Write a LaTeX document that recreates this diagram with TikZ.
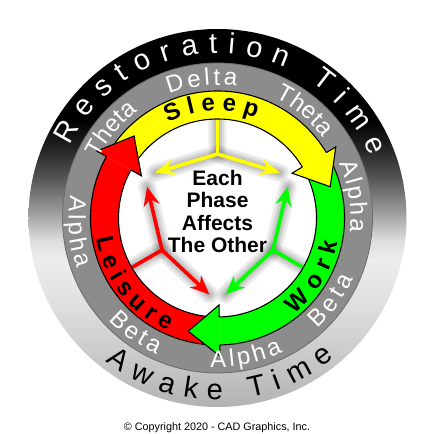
\documentclass[tikz,border=0pt]{standalone}
\usepackage{fontspec}
\setmainfont{Liberation Sans}
\usetikzlibrary{decorations.text,arrows.meta}

\definecolor{ringgray}{rgb}{0.55,0.55,0.55}
\definecolor{ringedge}{rgb}{0.42,0.42,0.42}
\definecolor{ylw}{rgb}{1,1,0}
\definecolor{grn}{rgb}{0,1,0}
\definecolor{rd}{rgb}{1,0,0}
\definecolor{sc0}{rgb}{0.70,0.70,0.70}
\definecolor{sc1}{rgb}{0.80,0.80,0.80}
\definecolor{sc2}{rgb}{0.88,0.88,0.88}
\definecolor{sc3}{rgb}{0.93,0.93,0.93}
\definecolor{sc4}{rgb}{0.87,0.87,0.87}
\definecolor{sc5}{rgb}{0.60,0.60,0.60}
\definecolor{sc6}{rgb}{0.35,0.35,0.35}
\definecolor{sc7}{rgb}{0.15,0.15,0.15}
\definecolor{sc8}{rgb}{0,0,0}

\pgfdeclareverticalshading{outerfade}{100bp}{color(0bp)=(sc0); color(25bp)=(sc0); color(32.5bp)=(sc1); color(39bp)=(sc2); color(44.5bp)=(sc3); color(47bp)=(sc4); color(51bp)=(sc5); color(55bp)=(sc6); color(59bp)=(sc7); color(63bp)=(sc8); color(100bp)=(sc8)}

\newcommand\gfont{\fontsize{24}{24}\selectfont}
\newcommand\bfont{\fontsize{24}{24}\selectfont\bfseries}
\newcommand\ofont{\fontsize{29}{29}\selectfont}

% #1 font, #2 colour, #3 radius, #4 start angle, #5 end angle, #6 text
\newcommand\tarc[6]{\begingroup#1\color{#2}%
  \path[decorate,decoration={text along path,text align=fit to path,text color=#2,text={|#1|#6}}] (#4:#3) arc[start angle=#4,end angle=#5,radius=#3];\endgroup}

\def\ri{99}
\def\ro{127}
\def\bi{87}
\def\bo{138}
\def\rt{117}

\tikzset{
  ringline/.style={draw=black, line width=1.1pt, line join=miter},
  ystem/.style={line width=3.6pt},
  ybranch/.style={line width=3.6pt, -{Stealth[length=19pt,width=16pt,inset=6pt]}},
  yshadow/.style={draw=black, line cap=round, opacity=0.075},
}

\newcommand\ringbody[3]{%
  \fill[#1] (#2:\ro) arc[start angle=#2,end angle=#3,radius=\ro] -- (#3:\ri) arc[start angle=#3,end angle=#2,radius=\ri] -- cycle;}
\newcommand\ringarcs[2]{%
  \draw[ringline] (#1:\ro) arc[start angle=#1,end angle=#2,radius=\ro];
  \draw[ringline] (#1:\ri) arc[start angle=#1,end angle=#2,radius=\ri];}
\newcommand\ringhead[2]{%
  \filldraw[fill=#1, ringline] (#2:\ri) -- (#2:\bi) -- ({#2-15.5}:\rt) -- (#2:\bo) -- (#2:\ro);}

\newcommand\yshape[3]{% angle, color, name
  \coordinate (#3s) at (#1:100);
  \coordinate (#3j) at (#1:64);
  \coordinate (#3a) at ({#1+54}:77);
  \coordinate (#3b) at ({#1-54}:77);
  \begin{scope}[shift={(4,-5)}]
    \foreach \w in {18,13,9,5}{
      \draw[yshadow, line width=\w pt] (#3s) -- (#3j) -- (#3a);
      \draw[yshadow, line width=\w pt] (#3j) -- (#3b);
    }
  \end{scope}
  \draw[ystem, #2] (#3s) -- (#3j);
  \draw[ybranch, #2] (#3j) -- (#3a);
  \draw[ybranch, #2] (#3j) -- (#3b);
}

\begin{document}
\begin{tikzpicture}[x=1pt,y=1pt]
\useasboundingbox (-217.5,-216) rectangle (216.5,218);

% outer shaded disc
\shade[shading=outerfade] (0,0) circle[radius=189];
% gray ring
\filldraw[fill=ringgray, draw=ringedge, line width=0.8pt] (0,0) circle[radius=155];
% white disc
\fill[white] (0,0) circle[radius=\ro];

% inner Y arrows
\yshape{90}{ylw}{yy}
\yshape{210}{rd}{yr}
\yshape{330}{grn}{yg}

% colored ring
\ringbody{ylw}{148}{31}
\ringbody{grn}{28}{-89}
\ringbody{rd}{-92}{-209}
\ringarcs{148}{31}
\ringarcs{28}{-89}
\ringarcs{-92}{-209}
\ringhead{ylw}{31}
\ringhead{grn}{-89}
\ringhead{rd}{-209}

% ring texts
\tarc{\bfont}{black}{107}{117.6}{68.9}{Sleep}
\tarc{\bfont}{black}{123}{308.7}{348.5}{Work}
\tarc{\bfont}{black}{123}{189.6}{246.5}{Leisure}

% gray ring texts
\tarc{\gfont}{white}{133}{153.5}{126.5}{Theta}
\tarc{\gfont}{white}{133}{111.4}{81.7}{Delta}
\tarc{\gfont}{white}{133}{64.5}{37.3}{Theta}
\tarc{\gfont}{white}{133}{24.1}{-5.8}{Alpha}
\tarc{\gfont}{white}{149}{171.2}{199.6}{Alpha}
\tarc{\gfont}{white}{149}{223.3}{245.9}{Beta}
\tarc{\gfont}{white}{149}{267.3}{296}{Alpha}
\tarc{\gfont}{white}{149}{312.2}{335.9}{Beta}

% outer texts
\tarc{\ofont}{white}{165}{153.9}{22}{Restoration Time}
\tarc{\ofont}{black}{182}{231.9}{309.9}{Awake Time}

% center text
\node[align=center, font=\fontsize{21}{22.5}\selectfont\bfseries] (center) at (0,6.5) {Each\\Phase\\Affects\\The Other};

% copyright
\node[font=\fontsize{10.8}{12}\selectfont] (copy) at (-0.5,-210) {© Copyright 2020 - CAD Graphics, Inc.};
\end{tikzpicture}
\end{document}
